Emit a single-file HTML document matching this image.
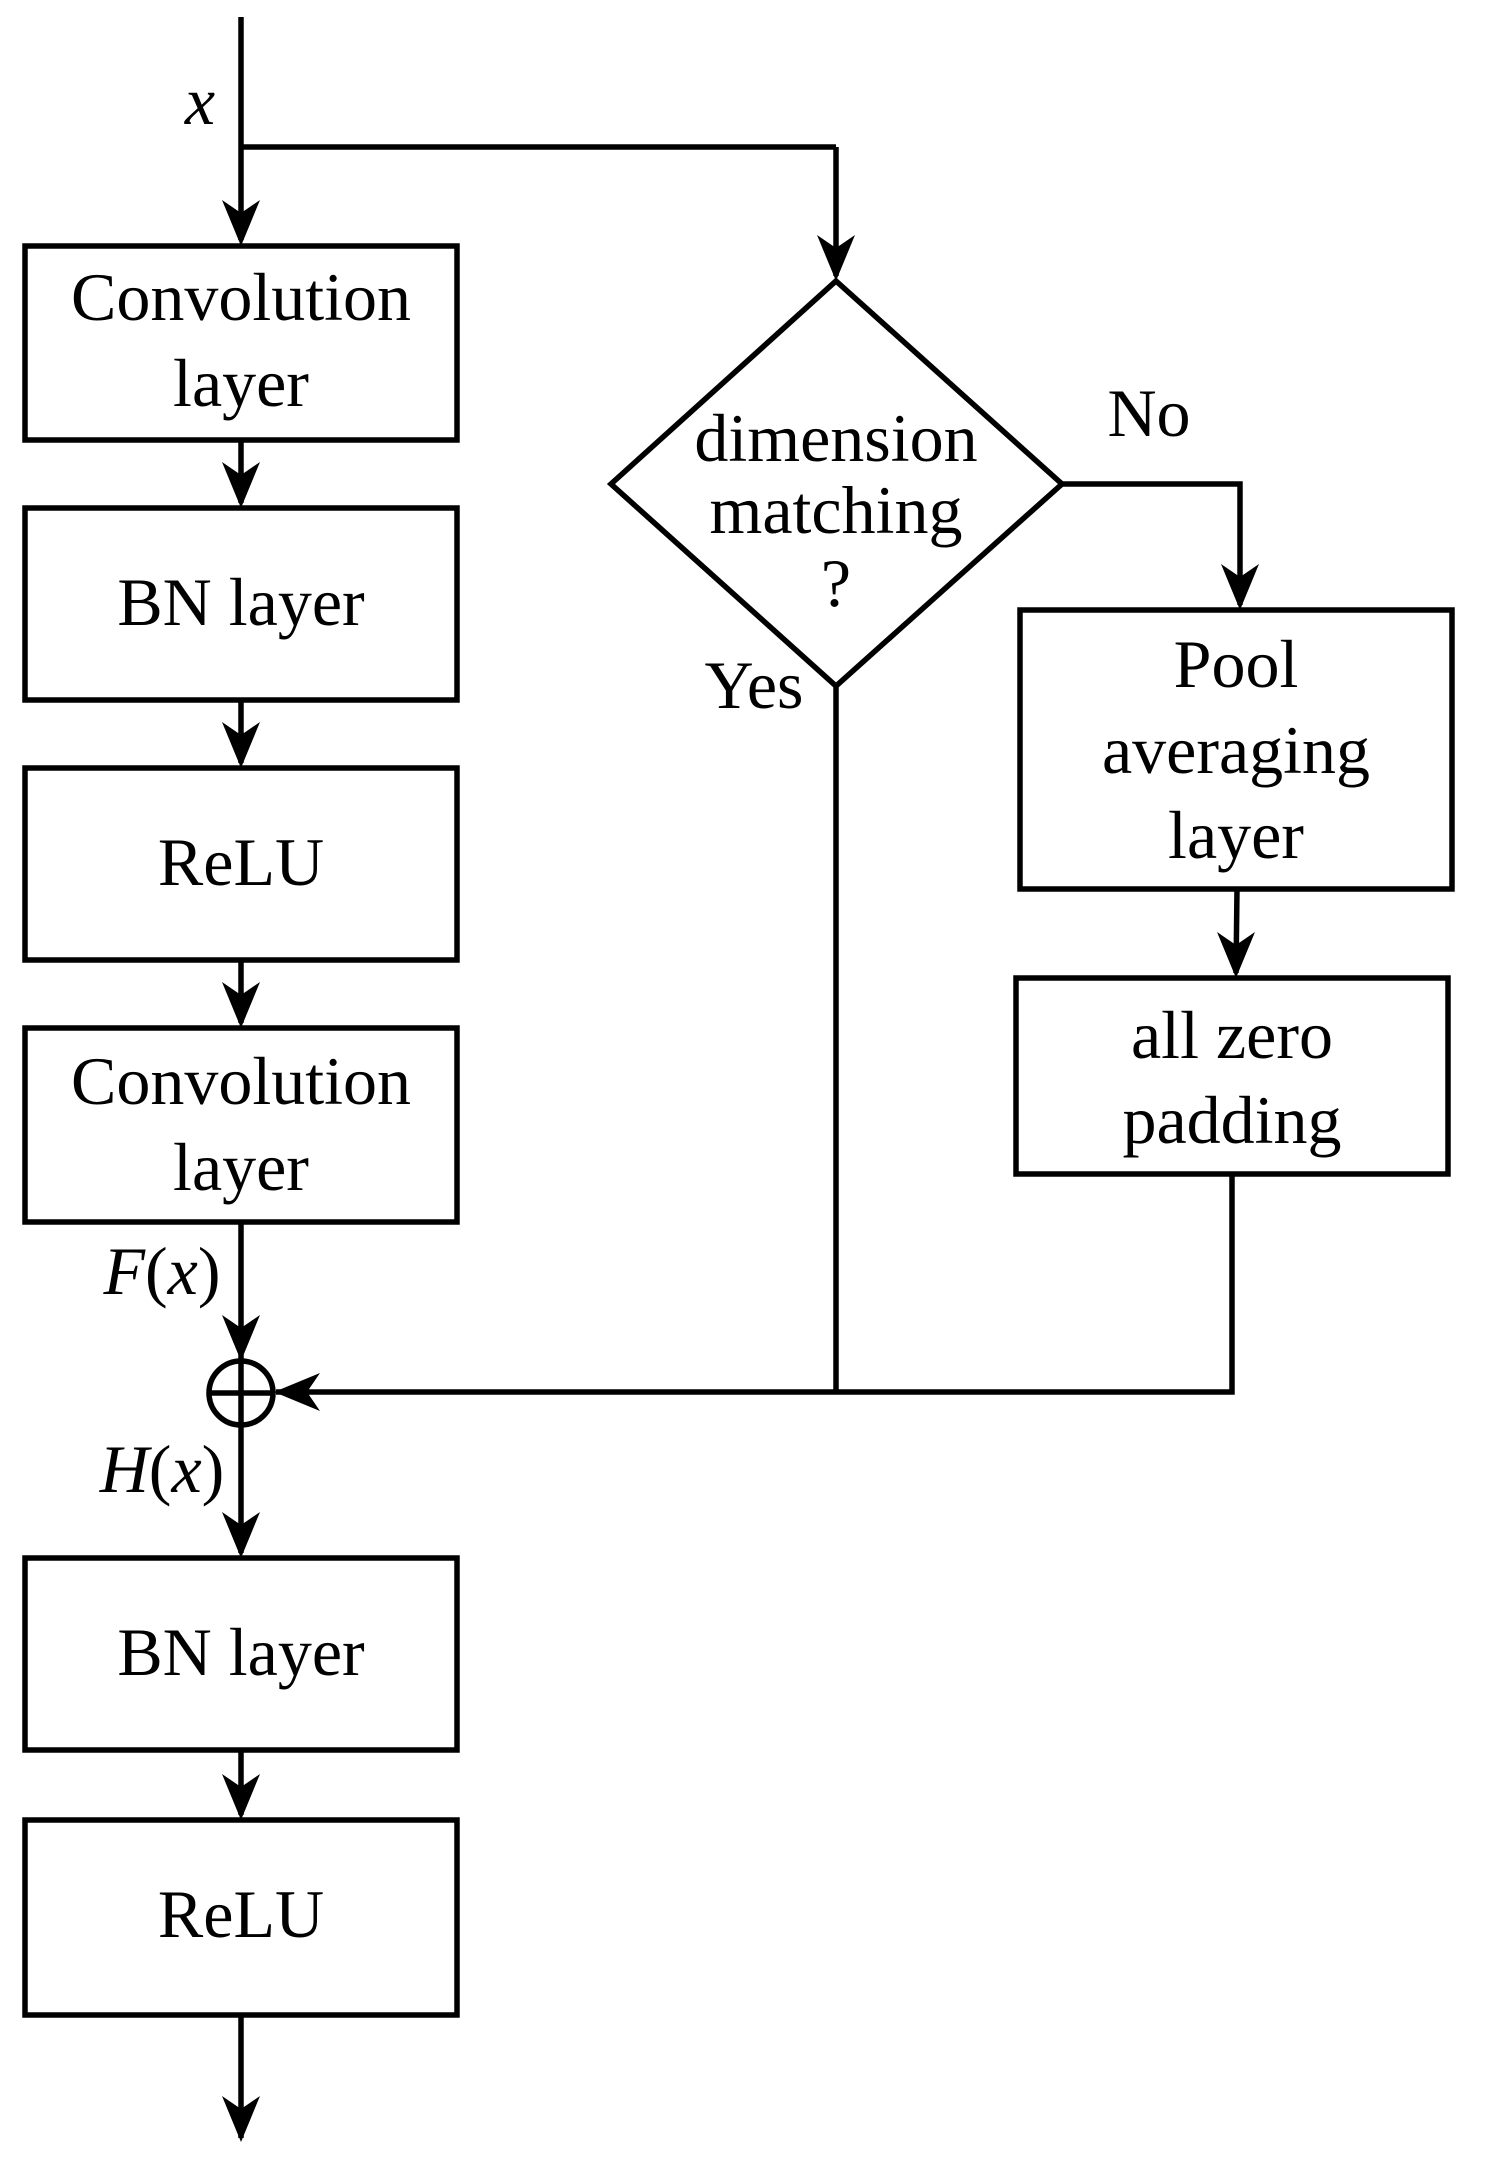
<!DOCTYPE html>
<html><head><meta charset="utf-8"><style>html,body{margin:0;padding:0;background:#fff}svg{display:block}</style></head>
<body>
<svg width="1486" height="2176" viewBox="0 0 1486 2176" xmlns="http://www.w3.org/2000/svg" font-family="'Liberation Serif', serif" fill="none">
<defs>
<path id="ah" d="M0,0 L-19,-46 L0,-33 L19,-46 Z" fill="#000" stroke="none"/>
</defs>
<g stroke="#000" stroke-width="5.5">
<line x1="241" y1="17" x2="241" y2="240"/>
<line x1="241" y1="147" x2="836" y2="147"/>
<line x1="836" y1="147" x2="836" y2="276"/>
<rect x="25" y="246" width="432" height="194"/>
<line x1="241" y1="440" x2="241" y2="503"/>
<rect x="25" y="508" width="432" height="192"/>
<line x1="241" y1="700" x2="241" y2="763"/>
<rect x="25" y="768" width="432" height="192"/>
<line x1="241" y1="960" x2="241" y2="1023"/>
<rect x="25" y="1028" width="432" height="194"/>
<line x1="241" y1="1222" x2="241" y2="1361"/>
<circle cx="241" cy="1393" r="32"/>
<line x1="209" y1="1393" x2="273" y2="1393"/>
<line x1="241" y1="1361" x2="241" y2="1553"/>
<rect x="25" y="1558" width="432" height="192"/>
<line x1="241" y1="1750" x2="241" y2="1815"/>
<rect x="25" y="1820" width="432" height="195"/>
<line x1="241" y1="2015" x2="241" y2="2138"/>
<polygon points="836,281 1062,484 836,686 611,484"/>
<polyline points="1062,484 1240,484 1240,605"/>
<rect x="1020" y="610" width="432" height="279"/>
<line x1="1237" y1="889" x2="1236" y2="973"/>
<rect x="1016" y="978" width="432" height="196"/>
<polyline points="1232,1174 1232,1392 276,1392"/>
<line x1="836" y1="686" x2="836" y2="1392"/>
</g>
<g>
<use href="#ah" transform="translate(241,246)"/>
<use href="#ah" transform="translate(836,281)"/>
<use href="#ah" transform="translate(241,508)"/>
<use href="#ah" transform="translate(241,768)"/>
<use href="#ah" transform="translate(241,1028)"/>
<use href="#ah" transform="translate(241,1361)"/>
<use href="#ah" transform="translate(241,1558)"/>
<use href="#ah" transform="translate(241,1820)"/>
<use href="#ah" transform="translate(241,2142)"/>
<use href="#ah" transform="translate(1240,610)"/>
<use href="#ah" transform="translate(1236,978)"/>
<use href="#ah" transform="translate(274,1392) rotate(90)"/>
</g>
<g fill="#000" font-size="68" text-anchor="middle">
<text x="241" y="320">Convolution</text>
<text x="241" y="406">layer</text>
<text x="241" y="625">BN layer</text>
<text x="241" y="885">ReLU</text>
<text x="241" y="1104">Convolution</text>
<text x="241" y="1190">layer</text>
<text x="241" y="1675">BN layer</text>
<text x="241" y="1937">ReLU</text>
<text x="836" y="461">dimension</text>
<text x="836" y="533">matching</text>
<text x="836" y="606">?</text>
<text x="1236" y="687">Pool</text>
<text x="1236" y="773">averaging</text>
<text x="1236" y="858">layer</text>
<text x="1232" y="1058">all zero</text>
<text x="1232" y="1143">padding</text>
<text x="1149" y="436">No</text>
<text x="754" y="708">Yes</text>
<text x="200" y="124" font-style="italic">x</text>
<text x="162" y="1294"><tspan font-style="italic">F</tspan>(<tspan font-style="italic">x</tspan>)</text>
<text x="162" y="1492"><tspan font-style="italic">H</tspan>(<tspan font-style="italic">x</tspan>)</text>
</g>
</svg>
</body></html>
